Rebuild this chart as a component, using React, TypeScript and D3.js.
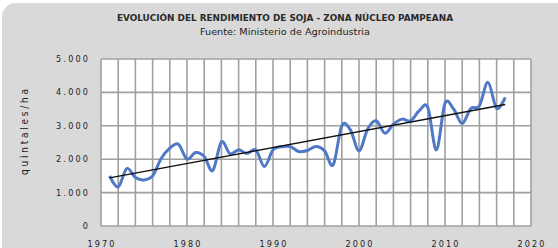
import { useEffect, useRef } from 'react';
import * as d3 from 'd3';

// Soybean yield, núcleo pampeano (quintales/ha)
const years = [
  1971, 1972, 1973, 1974, 1975, 1976, 1977, 1978, 1979, 1980,
  1981, 1982, 1983, 1984, 1985, 1986, 1987, 1988, 1989, 1990,
  1991, 1992, 1993, 1994, 1995, 1996, 1997, 1998, 1999, 2000,
  2001, 2002, 2003, 2004, 2005, 2006, 2007, 2008, 2009, 2010,
  2011, 2012, 2013, 2014, 2015, 2016, 2017,
];
const yields = [
  1500, 1170, 1720, 1450, 1380, 1500, 2020, 2330, 2450, 2000,
  2200, 2080, 1660, 2520, 2160, 2280, 2170, 2280, 1780, 2280,
  2370, 2380, 2230, 2260, 2380, 2250, 1830, 3000, 2880, 2250,
  2900, 3150, 2780, 3050, 3200, 3150, 3450, 3550, 2280, 3670,
  3500, 3070, 3520, 3600, 4300, 3520, 3850,
];
const yTicks = [0, 1000, 2000, 3000, 4000, 5000];
const xTicks = [1970, 1980, 1990, 2000, 2010, 2020];
const xGrid = [
  1970, 1972, 1974, 1976, 1978, 1980, 1982, 1984, 1986, 1988, 1990, 1992, 1994,
  1996, 1998, 2000, 2002, 2004, 2006, 2008, 2010, 2012, 2014, 2016, 2018, 2020,
];

const title = 'EVOLUCIÓN DEL RENDIMIENTO DE SOJA - ZONA NÚCLEO PAMPEANA';
const subtitle = 'Fuente: Ministerio de Agroindustria';
const yLabel = 'quintales/ha';

const W = 558;
const H = 248;
const font = '"Liberation Sans Narrow", "DejaVu Sans Condensed", "Liberation Sans", sans-serif';

export default function App() {
  const ref = useRef<SVGSVGElement | null>(null);

  useEffect(() => {
    const svg = d3.select(ref.current);
    svg.selectAll('*').remove();

    const plot = { left: 101, right: 531, top: 59, bottom: 226 };
    const x = d3.scaleLinear().domain([1970, 2020]).range([plot.left, plot.right]);
    const y = d3.scaleLinear().domain([0, 5000]).range([plot.bottom, plot.top]);

    svg.append('rect').attr('width', W).attr('height', H).attr('fill', '#ffffff');
    svg
      .append('rect')
      .attr('x', 2)
      .attr('y', 3)
      .attr('width', W + 20)
      .attr('height', H + 20)
      .attr('rx', 14)
      .attr('fill', '#d9d9d9');

    svg
      .append('rect')
      .attr('x', plot.left)
      .attr('y', plot.top)
      .attr('width', plot.right - plot.left)
      .attr('height', plot.bottom - plot.top)
      .attr('fill', '#ffffff');

    // grid: every 2 years, every 1.000 qq
    const grid = svg.append('g').attr('stroke', '#a0a0a0').attr('stroke-width', 1.6);
    grid
      .selectAll('line.v')
      .data(xGrid)
      .join('line')
      .attr('x1', (d) => x(d))
      .attr('x2', (d) => x(d))
      .attr('y1', plot.top)
      .attr('y2', plot.bottom);
    grid
      .selectAll('line.h')
      .data(yTicks)
      .join('line')
      .attr('class', 'h')
      .attr('x1', plot.left)
      .attr('x2', plot.right)
      .attr('y1', (d) => y(d))
      .attr('y2', (d) => y(d));

    // series, Excel-style smoothed
    const pts = years.map((yr, i) => [yr, yields[i]] as [number, number]);
    const line = d3
      .line<[number, number]>()
      .x((d) => x(d[0]))
      .y((d) => y(d[1]))
      .curve(d3.curveCardinal.tension(0));
    svg
      .append('path')
      .datum(pts)
      .attr('d', line)
      .attr('fill', 'none')
      .attr('stroke', '#4f78c6')
      .attr('stroke-width', 3)
      .attr('stroke-linejoin', 'round');

    // linear trend
    const mx = d3.mean(years) ?? 0;
    const my = d3.mean(yields) ?? 0;
    const slope =
      d3.sum(years, (yr, i) => (yr - mx) * (yields[i] - my)) / d3.sum(years, (yr) => (yr - mx) ** 2);
    const trend = (yr: number) => my + slope * (yr - mx);
    const x0 = years[0];
    const x1 = years[years.length - 1];
    svg
      .append('line')
      .attr('x1', x(x0))
      .attr('y1', y(trend(x0)))
      .attr('x2', x(x1))
      .attr('y2', y(trend(x1)))
      .attr('stroke', '#111111')
      .attr('stroke-width', 1.4);

    // y tick labels (wide, letter-spaced like the source)
    svg
      .append('g')
      .selectAll('text')
      .data(yTicks)
      .join('text')
      .attr('x', 88)
      .attr('y', (d) => y(d) + 3)
      .attr('text-anchor', 'end')
      .attr('font-family', font)
      .attr('font-size', 9)
      .attr('fill', '#222')
      .attr('textLength', (d) => (d === 0 ? null : 32))
      .attr('lengthAdjust', 'spacing')
      .text((d) => d3.format(',')(d).replace(/,/g, '.'));

    // x tick labels
    svg
      .append('g')
      .selectAll('text')
      .data(xTicks)
      .join('text')
      .attr('x', (d) => x(d))
      .attr('y', 247)
      .attr('text-anchor', 'middle')
      .attr('font-family', font)
      .attr('font-size', 9)
      .attr('fill', '#222')
      .attr('textLength', 27)
      .attr('lengthAdjust', 'spacing')
      .text((d) => String(d));

    svg
      .append('text')
      .attr('transform', 'translate(28,132) rotate(-90)')
      .attr('text-anchor', 'middle')
      .attr('font-family', font)
      .attr('font-size', 10)
      .attr('fill', '#222')
      .attr('textLength', 86)
      .attr('lengthAdjust', 'spacing')
      .text(yLabel);

    svg
      .append('text')
      .attr('x', 285)
      .attr('y', 21)
      .attr('text-anchor', 'middle')
      .attr('font-family', font)
      .attr('font-size', 8)
      .attr('font-weight', 'bold')
      .attr('fill', '#2a2a2a')
      .attr('textLength', 336)
      .attr('lengthAdjust', 'spacingAndGlyphs')
      .text(title);

    svg
      .append('text')
      .attr('x', 285)
      .attr('y', 35)
      .attr('text-anchor', 'middle')
      .attr('font-family', font)
      .attr('font-size', 8)
      .attr('fill', '#222')
      .attr('textLength', 170)
      .attr('lengthAdjust', 'spacingAndGlyphs')
      .text(subtitle);
  }, []);

  return (
    <>
      <style>{'body{margin:0}'}</style>
      <svg ref={ref} width={W} height={H} style={{ display: 'block' }} />
    </>
  );
}
